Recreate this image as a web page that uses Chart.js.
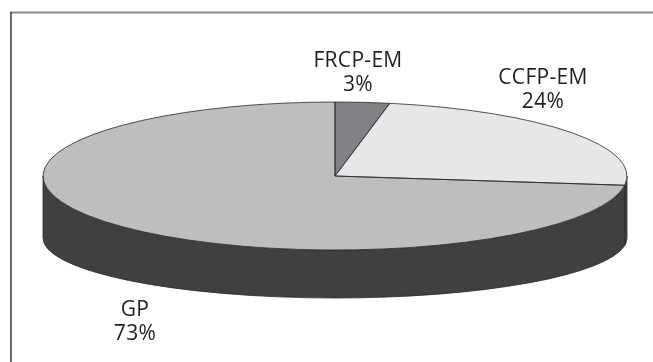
<!DOCTYPE html>
<html>
<head>
<meta charset="utf-8">
<script src="https://cdn.jsdelivr.net/npm/chart.js@4"></script>
<style>
  html, body { margin: 0; padding: 0; background: #fff; }
  #wrap { width: 653px; height: 362px; }
</style>
</head>
<body>
<div id="wrap"><canvas id="pieChart" width="653" height="362"></canvas></div>
<script>
const categories = ["FRCP-EM", "CCFP-EM", "GP"];
const shares = [3, 24, 73];
const percentLabels = ["3%", "24%", "73%"];

const sliceColors = ["#808285", "#e6e7e8", "#bcbec0"];
const sideColor = "#404041";
const lineColor = "#2b2b2b";

// where the flattened pie sits on the page
const tilt = { cx: 335, cy: 176, rx: 292, ry: 74, cyBottom: 238, ryBottom: 60 };
// text spots for each label (centre of the first line)
const labelSpots = [[358, 61], [543, 78], [135, 310]];

const pie3d = {
  id: "pie3d",
  beforeDraw(chart) {
    const c = chart.ctx;
    c.save();
    c.fillStyle = "#fff";
    c.fillRect(0, 0, chart.width, chart.height);
    c.lineWidth = 2;
    c.strokeStyle = "#8c8c8c";
    c.beginPath(); c.moveTo(10, 12.5); c.lineTo(chart.width, 12.5); c.stroke();
    c.lineWidth = 1.5;
    c.strokeStyle = "#3c3c3c";
    c.beginPath(); c.moveTo(11, 12); c.lineTo(11, chart.height); c.stroke();
    c.restore();
  },
  beforeDatasetsDraw(chart) {
    const c = chart.ctx;
    const arcs = chart.getDatasetMeta(0).data;
    // side wall, only the front half can be seen
    c.save();
    c.fillStyle = sideColor;
    c.strokeStyle = lineColor;
    c.lineWidth = 0.8;
    arcs.forEach(arc => {
      const { startAngle, endAngle } = arc.getProps(["startAngle", "endAngle"], true);
      const a = Math.max(startAngle, 0), b = Math.min(endAngle, Math.PI);
      if (b <= a) return;
      c.beginPath();
      c.ellipse(tilt.cx, tilt.cy, tilt.rx, tilt.ry, 0, a, b);
      c.ellipse(tilt.cx, tilt.cyBottom, tilt.rx, tilt.ryBottom, 0, b, a, true);
      c.closePath();
      c.fill();
      c.stroke();
    });
    c.restore();

    // squash the library's own pie into the top face
    const first = arcs[0];
    const R = first.outerRadius;
    c.save();
    c.translate(tilt.cx, tilt.cy);
    c.scale(tilt.rx / R, tilt.ry / R);
    c.translate(-first.x, -first.y);
  },
  afterDatasetsDraw(chart) {
    const c = chart.ctx;
    c.restore();
    const arcs = chart.getDatasetMeta(0).data;
    c.save();
    c.strokeStyle = lineColor;
    c.lineWidth = 0.8;
    arcs.forEach(arc => {
      const { startAngle, endAngle } = arc.getProps(["startAngle", "endAngle"], true);
      c.beginPath();
      c.moveTo(tilt.cx, tilt.cy);
      c.ellipse(tilt.cx, tilt.cy, tilt.rx, tilt.ry, 0, startAngle, endAngle);
      c.closePath();
      c.stroke();
    });
    c.restore();
  },
  afterDraw(chart) {
    const c = chart.ctx;
    c.save();
    c.fillStyle = "#231f20";
    c.font = "500 21px 'Open Sans'";
    c.letterSpacing = "0.3px";
    c.textAlign = "center";
    c.textBaseline = "middle";
    categories.forEach((name, i) => {
      const [x, y] = labelSpots[i];
      c.fillText(name, x, y);
      c.fillText(percentLabels[i], x, y + 24);
    });
    c.restore();
  }
};

new Chart(document.getElementById("pieChart").getContext("2d"), {
  type: "pie",
  data: {
    labels: categories,
    datasets: [{
      data: shares,
      backgroundColor: sliceColors,
      borderWidth: 0
    }]
  },
  options: {
    responsive: false,
    animation: false,
    events: [],
    plugins: {
      legend: { display: false },
      tooltip: { enabled: false }
    }
  },
  plugins: [pie3d]
});
</script>
</body>
</html>
